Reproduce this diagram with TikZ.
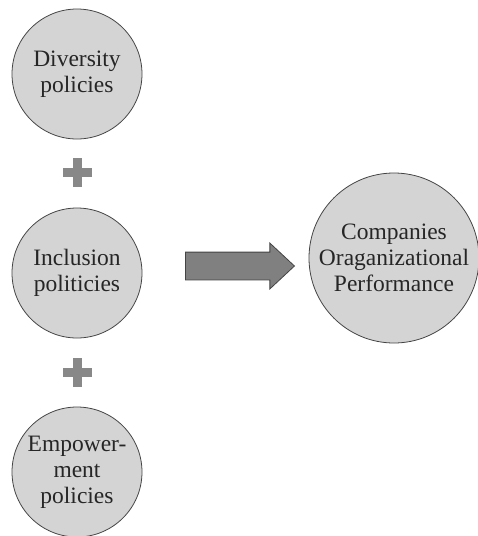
\documentclass[tikz,border=0pt]{standalone}
\usepackage{fontspec}
\setmainfont{Liberation Serif}
\usetikzlibrary{shapes.arrows}
\definecolor{circfill}{HTML}{D4D4D4}
\definecolor{circline}{HTML}{444444}
\definecolor{plusgray}{HTML}{888888}
\definecolor{arrowfill}{HTML}{808080}
\tikzset{
    policy/.style={circle, draw=circline, fill=circfill, line width=0.8pt,
        minimum size=130pt, inner sep=0pt, align=center,
        font=\fontsize{23.5}{26}\selectfont, text=black!85},
    outcome/.style={policy, minimum size=170pt},
    plusbar/.style={fill=plusgray, draw=none},
}
\begin{document}
\begin{tikzpicture}[x=1pt, y=-1pt]
    \useasboundingbox (0,0) rectangle (478,536);

    \node[policy] (div) at (77,74) {Diversity\\policies};
    \node[policy] (incl) at (77,273) {Inclusion\\politicies};
    \node[policy] (emp) at (77,472) {Empower-\\ment\\policies};

    \node[outcome] (perf) at (394,258) {Companies\\Oraganizational\\Performance};

    % plus signs between the circles
    \foreach \name/\yy in {plusa/172, plusb/372} {
        \coordinate (\name) at (77.5,\yy);
        \fill[plusbar] ([shift={(-14.5,-4.5)}]\name) rectangle ([shift={(14.5,4.5)}]\name);
        \fill[plusbar] ([shift={(-4.5,-14.5)}]\name) rectangle ([shift={(4.5,14.5)}]\name);
    }

    \node[single arrow, draw=circline, fill=arrowfill, line width=0.8pt,
        minimum height=109pt, minimum width=45pt, inner xsep=0pt, inner ysep=13.5pt,
        single arrow head extend=9pt, single arrow tip angle=86] (arrow) at (232.5,266) {};
\end{tikzpicture}
\end{document}
